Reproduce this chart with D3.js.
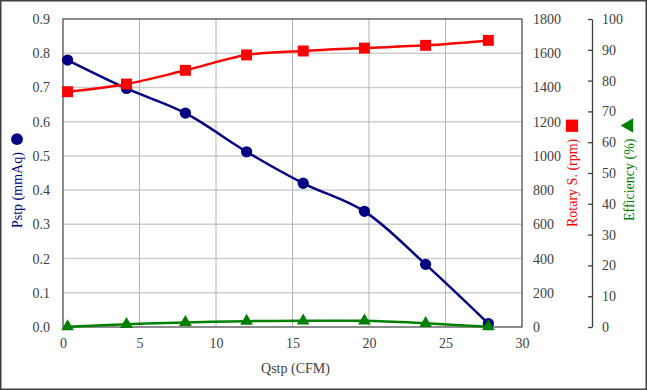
<!DOCTYPE html>
<html>
<head>
<meta charset="utf-8">
<script src="https://cdn.jsdelivr.net/npm/d3@7"></script>
<style>
  body { margin: 0; background: #fff; }
  svg { display: block; font-family: "Liberation Serif", "Times New Roman", serif; }
  .axis text { fill: #404040; font-size: 14px; font-family: "Liberation Serif", "Times New Roman", serif; }
  .axis path, .axis line { stroke: #404040; }
</style>
</head>
<body>
<svg id="chart" width="647" height="390"></svg>
<script>
// flow rate (CFM) at each test point
const qstp = [0.3, 4.15, 8.0, 12.0, 15.7, 19.7, 23.7, 27.8];
// static pressure (mmAq)
const pstp = [0.78, 0.697, 0.625, 0.512, 0.42, 0.338, 0.183, 0.01];
// rotary speed (rpm)
const rpm = [1375, 1420, 1500, 1590, 1613, 1630, 1646, 1675];
// efficiency (%)
const eff = [0.1, 0.9, 1.5, 1.9, 2.0, 2.0, 1.2, 0.1];

const xTicks = [0, 5, 10, 15, 20, 25, 30];
const pTicks = [0, 0.1, 0.2, 0.3, 0.4, 0.5, 0.6, 0.7, 0.8, 0.9];
const rTicks = [0, 200, 400, 600, 800, 1000, 1200, 1400, 1600, 1800];
const eTicks = [0, 10, 20, 30, 40, 50, 60, 70, 80, 90, 100];

const svg = d3.select('#chart');
const L = 63, R = 522, T = 19, B = 327;

const x = d3.scaleLinear([0, 30], [L, R]);
const yP = d3.scaleLinear([0, 0.9], [B, T]);
const yR = d3.scaleLinear([0, 1800], [B, T]);
const yE = d3.scaleLinear([0, 100], [B, T]);

// outer border
svg.append('rect')
    .attr('x', 0.75).attr('y', 0.75).attr('width', 645.5).attr('height', 388.5)
    .attr('fill', 'none').attr('stroke', '#404040').attr('stroke-width', 1.5);

// grid
svg.append('g').selectAll('line').data(pTicks.slice(1, -1)).join('line')
    .attr('x1', L).attr('x2', R)
    .attr('y1', d => yP(d)).attr('y2', d => yP(d))
    .attr('stroke', '#cdcdcd').attr('stroke-width', 1.5);
svg.append('g').selectAll('line').data(xTicks.slice(1, -1)).join('line')
    .attr('x1', d => x(d)).attr('x2', d => x(d))
    .attr('y1', T).attr('y2', B)
    .attr('stroke', '#b4b4b4').attr('stroke-width', 1);

// plot frame
svg.append('rect')
    .attr('x', L).attr('y', T).attr('width', R - L).attr('height', B - T)
    .attr('fill', 'none').attr('stroke', '#404040').attr('stroke-width', 1.2);

// axes
svg.append('g').attr('class', 'axis')
    .attr('transform', `translate(0,${B})`)
    .call(d3.axisBottom(x).tickValues(xTicks).tickSize(0).tickPadding(11))
    .call(g => g.select('.domain').remove());

svg.append('g').attr('class', 'axis')
    .attr('transform', `translate(${L},0)`)
    .call(d3.axisLeft(yP).tickValues(pTicks).tickFormat(d3.format('.1f')).tickSize(0).tickPadding(13))
    .call(g => g.select('.domain').remove());

svg.append('g').attr('class', 'axis')
    .attr('transform', `translate(${R},0)`)
    .call(d3.axisRight(yR).tickValues(rTicks).tickFormat(d3.format('d')).tickSize(0).tickPadding(11))
    .call(g => g.select('.domain').remove());

svg.append('g').attr('class', 'axis')
    .attr('transform', 'translate(592,0)')
    .call(d3.axisRight(yE).tickValues(eTicks).tickSizeInner(-4).tickSizeOuter(0).tickPadding(10))
    .call(g => g.selectAll('path, line').attr('stroke', '#808080').attr('stroke-width', 1.3));

// series
const series = [
    {vals: pstp, y: yP, color: '#000080', shape: d3.symbolCircle, size: 100},
    {vals: rpm, y: yR, color: '#ff0000', shape: d3.symbolSquare, size: 120},
    {vals: eff, y: yE, color: '#008000', shape: d3.symbolTriangle, size: 70}
];

series.forEach(s => {
    const pts = qstp.map((q, i) => [x(q), s.y(s.vals[i])]);
    svg.append('path')
        .attr('d', d3.line().curve(d3.curveCatmullRom.alpha(0.5))(pts))
        .attr('fill', 'none').attr('stroke', s.color).attr('stroke-width', 2.5);
    svg.append('g').selectAll('path').data(pts).join('path')
        .attr('transform', d => `translate(${d[0]},${d[1]})`)
        .attr('d', d3.symbol(s.shape, s.size))
        .attr('fill', s.color);
});

// axis titles with marker glyphs
const titles = [
    {text: 'Pstp (mmAq)', cx: 17, color: '#000080', shape: d3.symbolCircle, size: 110, end: 228},
    {text: 'Rotary S. (rpm)', cx: 572, color: '#ff0000', shape: d3.symbolSquare, size: 150, end: 227},
    {text: 'Efficiency (%)', cx: 629, color: '#008000', shape: d3.symbolTriangle, size: 90, end: 221}
];

titles.forEach(t => {
    const g = svg.append('g').attr('transform', `translate(${t.cx},${t.end}) rotate(-90)`);
    const txt = g.append('text')
        .attr('x', 0).attr('y', 0).attr('dy', '0.35em')
        .attr('font-size', 14).attr('fill', t.color)
        .text(t.text);
    const w = txt.node().getComputedTextLength();
    g.append('path')
        .attr('transform', `translate(${w + 13},0)`)
        .attr('d', d3.symbol(t.shape, t.size))
        .attr('fill', t.color);
});

svg.append('text')
    .attr('x', (L + R) / 2 + 3).attr('y', 373)
    .attr('text-anchor', 'middle').attr('font-size', 14).attr('fill', '#404040')
    .text('Qstp (CFM)');
</script>
</body>
</html>
